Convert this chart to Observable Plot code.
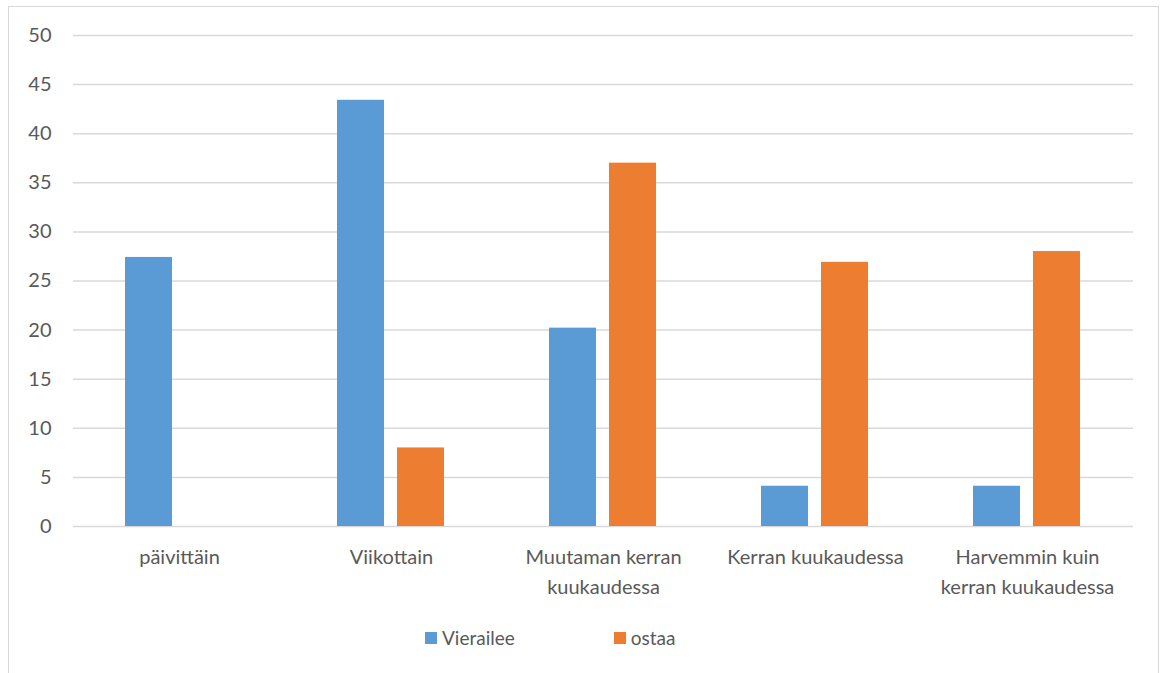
<!DOCTYPE html>
<html>
<head>
<meta charset="utf-8">
<script src="https://cdn.jsdelivr.net/npm/d3@7"></script>
<script src="https://cdn.jsdelivr.net/npm/@observablehq/plot@0.6"></script>
<style>
  html, body { margin: 0; padding: 0; background: #fff; width: 1163px; height: 673px; overflow: hidden; }
  #frame { position: absolute; left: 8px; top: 6px; width: 1151px; height: 700px; border: 1px solid #d9d9d9; box-sizing: border-box; }
  #chart { position: absolute; left: 0; top: 0; }
  #legend { position: absolute; left: 425px; top: 626px; display: flex; gap: 99px;
            font-family: Lato, "Open Sans", sans-serif; font-size: 19px; color: #595959; }
  .item { display: flex; align-items: center; gap: 5px; }
  .sw { width: 12px; height: 12px; display: inline-block; }
</style>
</head>
<body>
<div id="frame"></div>
<div id="chart"></div>
<div id="legend"></div>
<script>
const categories = ["päivittäin", "Viikottain", "Muutaman kerran kuukaudessa", "Kerran kuukaudessa", "Harvemmin kuin kerran kuukaudessa"];
const categoryLabels = ["päivittäin", "Viikottain", "Muutaman kerran\nkuukaudessa", "Kerran kuukaudessa", "Harvemmin kuin\nkerran kuukaudessa"];
const series = ["Vierailee", "ostaa"];
const vierailee = [27.4, 43.4, 20.2, 4.1, 4.1];
const ostaa = [0, 8, 37, 26.9, 28];
const colors = ["#5B9BD5", "#ED7D31"];
const yTicks = [0, 5, 10, 15, 20, 25, 30, 35, 40, 45, 50];

const data = [];
categories.forEach((c, i) => {
  data.push({category: c, series: series[0], value: vierailee[i]});
  data.push({category: c, series: series[1], value: ostaa[i]});
});
const labelOf = new Map(categories.map((c, i) => [c, categoryLabels[i]]));

const plot = Plot.plot({
  width: 1163,
  height: 620,
  marginLeft: 72,
  marginRight: 30,
  marginTop: 35,
  marginBottom: 94,
  style: {fontFamily: "Lato, 'Open Sans', sans-serif", fontSize: "20px", color: "#595959", background: "transparent"},
  fx: {domain: categories, padding: 0, label: null, axis: null},
  x: {domain: series, paddingInner: 0.215, paddingOuter: 0.86, axis: null},
  y: {domain: [0, 50], label: null},
  color: {domain: series, range: colors},
  marks: [
    Plot.ruleY(yTicks, {stroke: "#d9d9d9", strokeWidth: 1.5}),
    Plot.barY(data, {fx: "category", x: "series", y: "value", fill: "series"}),
    Plot.axisY({ticks: yTicks, tickSize: 0, tickPadding: 22, label: null, fill: "#595959"}),
    Plot.axisFx({anchor: "bottom", tickSize: 0, tickPadding: 16, label: null, lineHeight: 1.5, tickFormat: d => labelOf.get(d), fill: "#595959"})
  ]
});
document.getElementById("chart").appendChild(plot);

const legend = document.getElementById("legend");
series.forEach((s, i) => {
  const item = document.createElement("div");
  item.className = "item";
  const sw = document.createElement("span");
  sw.className = "sw";
  sw.style.background = colors[i];
  const t = document.createElement("span");
  t.textContent = s;
  item.appendChild(sw);
  item.appendChild(t);
  legend.appendChild(item);
});
</script>
</body>
</html>
